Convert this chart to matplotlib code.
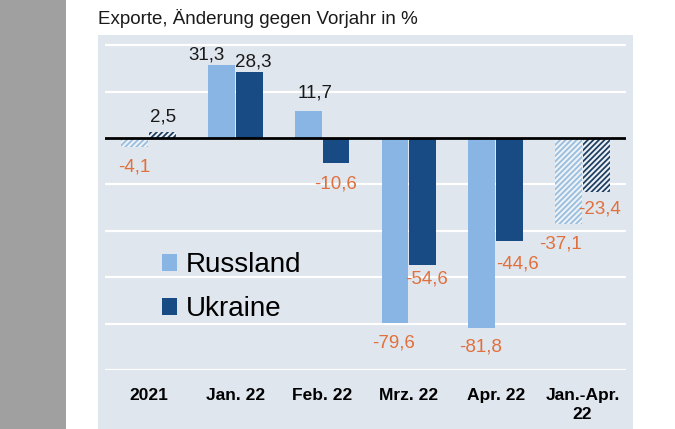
import matplotlib
matplotlib.use("Agg")
import matplotlib.pyplot as plt
from matplotlib.patches import Rectangle
import numpy as np

plt.rcParams['font.family'] = ['Liberation Sans', 'DejaVu Sans']
plt.rcParams['hatch.linewidth'] = 1.3

categories = ['2021', 'Jan. 22', 'Feb. 22', 'Mrz. 22', 'Apr. 22', 'Jan.-Apr.\n22']
russland = [-4.1, 31.3, 11.7, -79.6, -81.8, -37.1]
ukraine = [2.5, 28.3, -10.6, -54.6, -44.6, -23.4]
hatched = [True, False, False, False, False, True]

# label nudges in pixels (dx, distance from bar end)
nudge_r = [(0, 20), (-15, 10), (7, 18), (-1, 20), (-1, 19), (-8, 20)]
nudge_u = [(1, 15), (4, 10), (0, 21), (4, 14), (8, 23), (3, 17)]

c_russ = '#89b5e5'
c_ukr = '#184a83'
c_neg = '#e0703c'
panel = '#e0e6ee'

fig = plt.figure(figsize=(6.75, 4.29), dpi=100)
fig.patch.set_facecolor('white')
fig.patches.append(Rectangle((0, 0), 66 / 675, 1, transform=fig.transFigure,
                             facecolor='#a0a0a0', edgecolor='none', zorder=-5))
fig.patches.append(Rectangle((98 / 675, 0), (633 - 98) / 675, 1 - 35 / 429,
                             transform=fig.transFigure, facecolor=panel,
                             edgecolor='none', zorder=-5))

ax = fig.add_axes([105 / 675, 1 - 370 / 429, (626 - 105) / 675, (370 - 35.9) / 429])
ax.set_facecolor('none')
ax.set_zorder(1)

x = np.arange(len(categories))
w = 0.31

for i in range(len(categories)):
    for val, off, col, hcol in [(russland[i], -0.16, c_russ, '#98bedf'),
                                (ukraine[i], 0.16, c_ukr, '#1f3f62')]:
        if hatched[i]:
            ax.bar(x[i] + off, val, w, facecolor='#eef2f7', edgecolor=hcol,
                   hatch='//////', linewidth=0, zorder=2)
        else:
            ax.bar(x[i] + off, val, w, color=col, linewidth=0, zorder=2)

# legend handles
hr = ax.bar([0], [0], 0, color=c_russ, label='Russland')
hu = ax.bar([0], [0], 0, color=c_ukr, label='Ukraine')

ax.axhline(0, color='black', lw=2, zorder=3)

for series, off, nudges in [(russland, -0.16, nudge_r), (ukraine, 0.16, nudge_u)]:
    for i, val in enumerate(series):
        dx, dy = nudges[i]
        txt = f'{val:.1f}'.replace('.', ',')
        if val >= 0:
            ax.annotate(txt, (x[i] + off, val), xytext=(dx, dy), textcoords='offset pixels',
                        ha='center', va='center', fontsize=13.5, color='#1a1a1a', zorder=4)
        else:
            ax.annotate(txt, (x[i] + off, val), xytext=(dx, -dy), textcoords='offset pixels',
                        ha='center', va='center', fontsize=13.5, color=c_neg, zorder=4)

ax.set_xlim(-0.5, len(categories) - 0.5)
ax.set_ylim(-100, 44)
ax.set_yticks(range(-100, 41, 20))
ax.yaxis.grid(True, color='white', lw=1.6, zorder=1)
ax.set_axisbelow(True)
ax.tick_params(axis='y', length=0, labelleft=False)
ax.set_xticks(x)
ax.set_xticklabels(categories, fontsize=12.5, fontweight='bold')
ax.tick_params(axis='x', length=0, pad=13)
for t in ax.get_xticklabels():
    t.set_linespacing(1.3)
for s in ax.spines.values():
    s.set_visible(False)

leg = ax.legend(handles=[hr, hu], loc='upper left',
                bbox_to_anchor=(162 / 675, 1 - 252 / 429), bbox_transform=fig.transFigure,
                frameon=False, fontsize=20, handlelength=0.55, handleheight=0.55,
                handletextpad=0.3, labelspacing=0.65, borderpad=0, borderaxespad=0)

fig.text(98 / 675, 1 - 18 / 429, 'Exporte, Änderung gegen Vorjahr in %',
         fontsize=13.5, ha='left', va='center', color='#1a1a1a')

fig.savefig('out.png', dpi=100)
